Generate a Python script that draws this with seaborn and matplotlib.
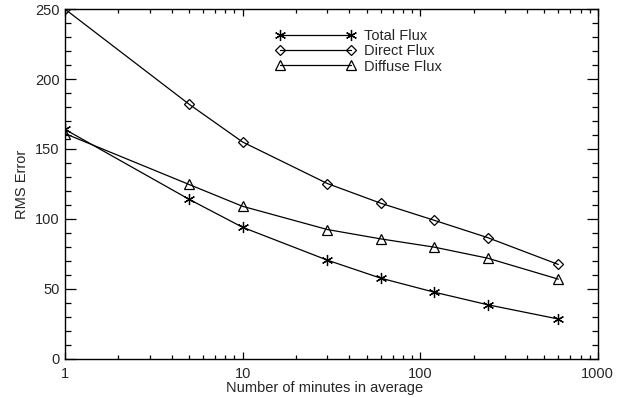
import matplotlib
matplotlib.use("Agg")
import matplotlib.pyplot as plt
import matplotlib.ticker as mticker
import pandas as pd
import seaborn as sns

minutes = [1, 5, 10, 30, 60, 120, 240, 600]
total_flux = [164, 114, 94, 70.5, 57.6, 47.6, 38.6, 28.4]
direct_flux = [250, 182, 155, 125.3, 111.2, 99, 86.6, 67.4]
diffuse_flux = [161, 124.6, 109, 92.4, 85.7, 79.8, 71.9, 56.9]
series_names = ["Total Flux", "Direct Flux", "Diffuse Flux"]

sns.set_theme(style="ticks")
plt.rcParams["font.family"] = ["Liberation Sans", "DejaVu Sans"]

df = pd.DataFrame({"minutes": minutes, "Total Flux": total_flux,
                   "Direct Flux": direct_flux, "Diffuse Flux": diffuse_flux})
df = df.melt(id_vars="minutes", var_name="series", value_name="rms")

fig = plt.figure(figsize=(6.22, 3.98), dpi=100)
ax = fig.add_axes([0.1045, 0.0987, 0.8565, 0.8783])

markers = {"Total Flux": (6, 2, 0), "Direct Flux": "D", "Diffuse Flux": "^"}
sizes = {"Total Flux": 8, "Direct Flux": 5.5, "Diffuse Flux": 6.5}
for name in series_names:
    sub = df[df["series"] == name]
    sns.lineplot(data=sub, x="minutes", y="rms", ax=ax, color="black",
                 linewidth=0.9, marker=markers[name], markersize=sizes[name],
                 markerfacecolor="none", markeredgecolor="black",
                 markeredgewidth=0.9, label=name)

ax.set_xscale("log")
ax.set_xlim(1, 1000)
ax.set_ylim(0, 250)
ax.xaxis.set_major_formatter(mticker.FuncFormatter(lambda v, p: f"{v:g}"))
ax.yaxis.set_major_locator(mticker.MultipleLocator(50))
ax.yaxis.set_minor_locator(mticker.MultipleLocator(10))

ax.tick_params(axis="both", which="both", direction="in", top=True, right=True,
               labelsize=10.5, color="black", width=0.9)
ax.tick_params(axis="x", which="major", length=5, pad=6)
ax.tick_params(axis="x", which="minor", length=3)
ax.tick_params(axis="y", which="major", length=8, pad=4)
ax.tick_params(axis="y", which="minor", length=4.3)
for s in ax.spines.values():
    s.set_linewidth(1.0)
    s.set_color("black")

ax.set_xlabel("Number of minutes in average", fontsize=10.5)
ax.xaxis.set_label_coords(0.488, -0.064)
ax.set_ylabel("RMS Error", fontsize=10.5, labelpad=4)

ax.legend(loc="upper left", bbox_to_anchor=(0.37, 0.98), frameon=False,
          numpoints=2, fontsize=10.5, handlelength=5.5, handletextpad=0.6,
          labelspacing=0.08, borderaxespad=0.5)

fig.savefig("out.png", dpi=100)
